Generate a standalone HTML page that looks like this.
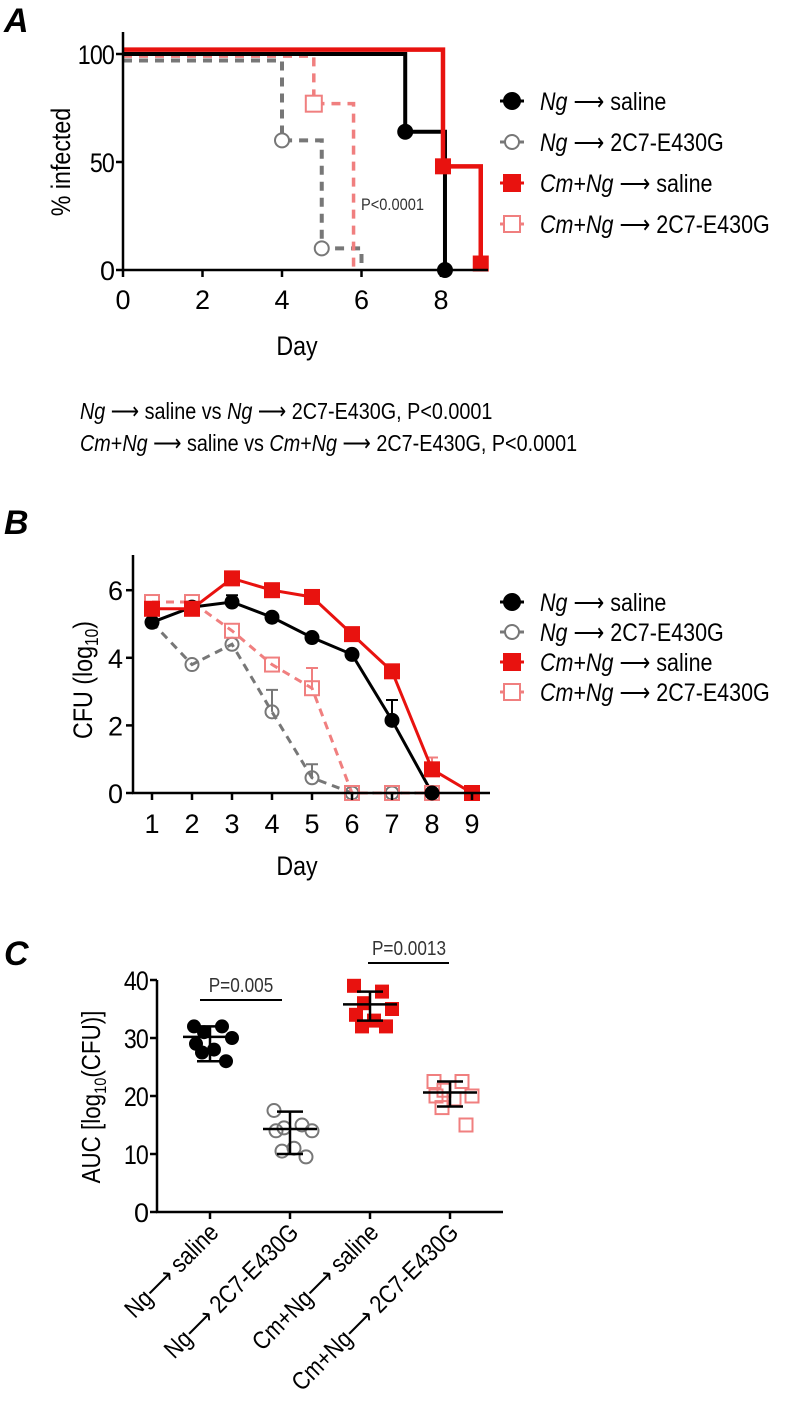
<!DOCTYPE html>
<html><head><meta charset="utf-8"><style>
body{margin:0;background:#fff}
svg{display:block;font-family:"Liberation Sans",Arial,sans-serif}
</style></head><body>
<svg id="fig" width="800" height="1411" viewBox="0 0 800 1411" xmlns="http://www.w3.org/2000/svg">
<g id="A"></g>
<g id="B"></g>
<g id="C"></g>
</svg>
<script>
// ---- Panel A data (survival) ----
const aNgSalDays=[0,7.1,8.1];const aNgSalVals=[100,64,0];
const aNg2C7Days=[0,4,5,6];const aNg2C7Vals=[97,60,10,0];
const aCmSalDays=[0,8.05,9];const aCmSalVals=[102,48,3];
const aCm2C7Days=[0,4.8,5.8];const aCm2C7Vals=[99,77,0];
const aXTicks=[0,2,4,6,8];const aYTicks=[0,50,100];
// ---- Panel B data (CFU) ----
const bDays=[1,2,3,4,5,6,7,8,9];
const bNgSal=[5.05,5.5,5.65,5.2,4.6,4.1,2.15,0,null];
const bNg2C7=[5.05,3.8,4.4,2.4,0.45,0,0,0,null];
const bCmSal=[5.45,5.45,6.35,6.0,5.8,4.7,3.6,0.7,0];
const bCm2C7=[5.65,5.65,4.8,3.8,3.1,0,0,0,null];
const bNgSalErr=[0,0,0.2,0,0,0,0.6,0,0];
const bNg2C7Err=[0,0,0,0.65,0.4,0,0,0,0];
const bCmSalErr=[0,0,0,0,0,0,0,0.35,0];
const bCm2C7Err=[0,0,0,0,0.6,0,0,0,0];
const bYTicks=[0,2,4,6];
// ---- Panel C data (AUC) ----
const cCats=["Ng saline","Ng 2C7","Cm saline","Cm 2C7"];
const cNgSal=[32,32,31,30,29,28,27.5,26];
const cNg2C7=[17.5,15,14.5,14,14,11,10.5,9.5];
const cCmSal=[39,38,36,35,34,33,32,32];
const cCm2C7=[22.5,22.5,21,20,20,19.5,18,15];
const cMeans=[30.2,14.3,35.8,20.6];
const cErrLo=[26,10,33,18.2];
const cErrHi=[32,17.3,38,22.5];
const cYTicks=[0,10,20,30,40];

const NS="http://www.w3.org/2000/svg";
function mk(parent,tag,attrs,text){const e=document.createElementNS(NS,tag);for(const k in attrs)e.setAttribute(k,attrs[k]);if(text!==undefined)e.textContent=text;parent.appendChild(e);return e;}
const RED="#e8120f",PINK="#f07f7f",GREY="#777",BLK="#000";

// ===== Panel A =====
const A=document.getElementById('A');
const ax=d=>123+d*39.75, ay=v=>270-v*2.16;
let t=mk(A,'text',{x:4,y:32,'font-size':34,'font-weight':'bold','font-style':'italic'},'A');


function stepPath(days,vals,end){let d=`M${ax(days[0])},${ay(vals[0])}`;for(let i=1;i<days.length;i++){d+=` H${ax(days[i])} V${ay(vals[i])}`;}if(end!==undefined)d+=` H${ax(end)} V${ay(0)}`;return d;}
let p=mk(A,'path',{d:stepPath(aNg2C7Days,aNg2C7Vals),fill:'none',stroke:GREY,'stroke-width':4,'stroke-dasharray':'9,7'});


p=mk(A,'path',{d:stepPath(aCm2C7Days,aCm2C7Vals),fill:'none',stroke:PINK,'stroke-width':3.5,'stroke-dasharray':'9,7'});


p=mk(A,'path',{d:stepPath(aNgSalDays,aNgSalVals),fill:'none',stroke:BLK,'stroke-width':4});


p=mk(A,'path',{d:stepPath(aCmSalDays,aCmSalVals),fill:'none',stroke:RED,'stroke-width':4.5});


for(let i=1;i<aNgSalDays.length;i++){const m=mk(A,'circle',{cx:ax(aNgSalDays[i]),cy:ay(aNgSalVals[i]),r:8,fill:BLK});}
for(let i=1;i<aNg2C7Days.length-1;i++){const m=mk(A,'circle',{cx:ax(aNg2C7Days[i]),cy:ay(aNg2C7Vals[i]),r:7,fill:'#fff',stroke:GREY,'stroke-width':2});}
for(let i=1;i<aCmSalDays.length;i++){const m=mk(A,'rect',{x:ax(aCmSalDays[i])-8,y:ay(aCmSalVals[i])-8,width:16,height:16,fill:RED});}
for(let i=1;i<aCm2C7Days.length-1;i++){const m=mk(A,'rect',{x:ax(aCm2C7Days[i])-8,y:ay(aCm2C7Vals[i])-8,width:16,height:16,fill:'#fff',stroke:PINK,'stroke-width':2});}
let l=mk(A,'path',{d:`M123,32 V271 M122,270 H488`,stroke:BLK,'stroke-width':2.5,fill:'none'});


aXTicks.forEach(v=>{mk(A,'line',{x1:ax(v),x2:ax(v),y1:270,y2:277,stroke:BLK,'stroke-width':2.5});const e=mk(A,'text',{x:ax(v),y:309,'font-size':27,'text-anchor':'middle'},v);});
aYTicks.forEach(v=>{mk(A,'line',{x1:116,x2:123,y1:ay(v),y2:ay(v),stroke:BLK,'stroke-width':2.5});const e=mk(A,'text',{x:114,y:ay(v)+10,'font-size':27,'text-anchor':'end','letter-spacing':'-1'},v);});
t=mk(A,'text',{x:0,y:0,'font-size':27,'text-anchor':'middle',transform:'translate(70,162) rotate(-90)'},'% infected');


t=mk(A,'text',{x:297,y:355,'font-size':27,'text-anchor':'middle'},'Day');


t=mk(A,'text',{x:361,y:210,'font-size':17,fill:'#333'},'P<0.0001');


t=mk(A,'text',{x:80,y:419,'font-size':23},'');
t.innerHTML='<tspan font-style="italic">Ng</tspan> ⟶ saline vs <tspan font-style="italic">Ng</tspan> ⟶ 2C7-E430G, P&lt;0.0001';


t=mk(A,'text',{x:80,y:451,'font-size':23},'');
t.innerHTML='<tspan font-style="italic">Cm</tspan>+<tspan font-style="italic">Ng</tspan> ⟶ saline vs <tspan font-style="italic">Cm</tspan>+<tspan font-style="italic">Ng</tspan> ⟶ 2C7-E430G, P&lt;0.0001';



// legends
function legend(G,y0,dy,prefix){
 const items=[{c:BLK,f:BLK,s:'c',lab:'<tspan font-style="italic">Ng</tspan> ⟶ saline'},
 {c:GREY,f:'#fff',s:'c',lab:'<tspan font-style="italic">Ng</tspan> ⟶ 2C7-E430G'},
 {c:RED,f:RED,s:'s',lab:'<tspan font-style="italic">Cm</tspan>+<tspan font-style="italic">Ng</tspan> ⟶ saline'},
 {c:PINK,f:'#fff',s:'s',lab:'<tspan font-style="italic">Cm</tspan>+<tspan font-style="italic">Ng</tspan> ⟶ 2C7-E430G'}];
 items.forEach((it,i)=>{const y=y0+i*dy;const g=mk(G,'g',{});
  
  
  mk(g,'line',{x1:500,x2:524,y1:y,y2:y,stroke:it.c,'stroke-width':3});
  if(it.s==='c')mk(g,'circle',{cx:512,cy:y,r:it.f==='#fff'?7:8,fill:it.f,stroke:it.c,'stroke-width':2});
  else mk(g,'rect',{x:504,y:y-8,width:16,height:16,fill:it.f,stroke:it.c,'stroke-width':2});
  const tx=mk(g,'text',{x:540,y:y+9,'font-size':25});tx.innerHTML=it.lab;});
}
legend(A,101,41,'a');

// ===== Panel B =====
const B=document.getElementById('B');
const bx=d=>152+(d-1)*40, by=v=>793-v*33.8;
t=mk(B,'text',{x:4,y:534,'font-size':34,'font-weight':'bold','font-style':'italic'},'B');


function lineD(vals){let d='';vals.forEach((v,i)=>{if(v===null)return;d+=(d?' L':'M')+bx(bDays[i])+','+by(v);});return d;}
function errs(vals,err,col){vals.forEach((v,i)=>{if(v===null||!err[i])return;const e=mk(B,'path',{d:`M${bx(bDays[i])},${by(v)} V${by(v+err[i])} M${bx(bDays[i])-6},${by(v+err[i])} H${bx(bDays[i])+6}`,stroke:col,'stroke-width':2,fill:'none'});});}
errs(bNg2C7,bNg2C7Err,GREY);errs(bCm2C7,bCm2C7Err,PINK);errs(bNgSal,bNgSalErr,BLK);errs(bCmSal,bCmSalErr,PINK);
p=mk(B,'path',{d:lineD(bNg2C7),fill:'none',stroke:GREY,'stroke-width':3,'stroke-dasharray':'8,6'});


p=mk(B,'path',{d:lineD(bCm2C7),fill:'none',stroke:PINK,'stroke-width':3,'stroke-dasharray':'8,6'});


p=mk(B,'path',{d:lineD(bNgSal),fill:'none',stroke:BLK,'stroke-width':3});


p=mk(B,'path',{d:lineD(bCmSal),fill:'none',stroke:RED,'stroke-width':3});


bNg2C7.forEach((v,i)=>{if(v===null||i===0)return;const m=mk(B,'circle',{cx:bx(bDays[i]),cy:by(v),r:6.5,fill:'none',stroke:GREY,'stroke-width':2});});
bCm2C7.forEach((v,i)=>{if(v===null)return;const m=mk(B,'rect',{x:bx(bDays[i])-7,y:by(v)-7,width:14,height:14,fill:'none',stroke:PINK,'stroke-width':2});});
bNgSal.forEach((v,i)=>{if(v===null)return;const m=mk(B,'circle',{cx:bx(bDays[i]),cy:by(v),r:7.5,fill:BLK});});
bCmSal.forEach((v,i)=>{if(v===null)return;const m=mk(B,'rect',{x:bx(bDays[i])-8,y:by(v)-8,width:16,height:16,fill:RED});});
l=mk(B,'path',{d:`M133,555 V794 M132,793 H490`,stroke:BLK,'stroke-width':2.5,fill:'none'});


bDays.forEach(v=>{mk(B,'line',{x1:bx(v),x2:bx(v),y1:793,y2:800,stroke:BLK,'stroke-width':2.5});const e=mk(B,'text',{x:bx(v),y:833,'font-size':27,'text-anchor':'middle'},v);});
bYTicks.forEach(v=>{mk(B,'line',{x1:126,x2:133,y1:by(v),y2:by(v),stroke:BLK,'stroke-width':2.5});const e=mk(B,'text',{x:123,y:by(v)+10,'font-size':27,'text-anchor':'end'},v);});
t=mk(B,'text',{x:0,y:0,'font-size':27,'text-anchor':'middle',transform:'translate(92,680) rotate(-90)'},'');
t.innerHTML='CFU (log<tspan font-size="18" dy="6">10</tspan><tspan dy="-6">)</tspan>';


t=mk(B,'text',{x:297,y:875,'font-size':27,'text-anchor':'middle'},'Day');


legend(B,602,30,'b');

// ===== Panel C =====
const C=document.getElementById('C');
const cxp=i=>210+i*80, cy=v=>1212-v*5.8;
t=mk(C,'text',{x:4,y:965,'font-size':34,'font-weight':'bold','font-style':'italic'},'C');


const offs=[-16,12,-6,22,-14,4,-8,16];
function dots(vals,i,kind){vals.forEach((v,j)=>{const x=cxp(i)+offs[j%offs.length];let m;
 if(kind==='fc')m=mk(C,'circle',{cx:x,cy:cy(v),r:7,fill:BLK});
 else if(kind==='oc')m=mk(C,'circle',{cx:x,cy:cy(v),r:6.5,fill:'none',stroke:GREY,'stroke-width':2});
 else if(kind==='fs')m=mk(C,'rect',{x:x-7,y:cy(v)-7,width:14,height:14,fill:RED});
 else m=mk(C,'rect',{x:x-6.5,y:cy(v)-6.5,width:13,height:13,fill:'none',stroke:PINK,'stroke-width':2});
 
 });}
dots(cNgSal,0,'fc');dots(cNg2C7,1,'oc');dots(cCmSal,2,'fs');dots(cCm2C7,3,'os');
cMeans.forEach((m,i)=>{const x=cxp(i);const e=mk(C,'path',{d:`M${x-27},${cy(m)} H${x+27} M${x},${cy(cErrLo[i])} V${cy(cErrHi[i])} M${x-13},${cy(cErrLo[i])} H${x+13} M${x-13},${cy(cErrHi[i])} H${x+13}`,stroke:BLK,'stroke-width':2.5,fill:'none'});});
l=mk(C,'path',{d:`M157,980 V1213 M156,1212 H503`,stroke:BLK,'stroke-width':2.5,fill:'none'});


cYTicks.forEach(v=>{mk(C,'line',{x1:150,x2:157,y1:cy(v),y2:cy(v),stroke:BLK,'stroke-width':2.5});const e=mk(C,'text',{x:148,y:cy(v)+10,'font-size':27,'text-anchor':'end','letter-spacing':'-1'},v);});
const cLabels=['Ng⟶ saline','Ng⟶ 2C7-E430G','Cm+Ng⟶ saline','Cm+Ng⟶ 2C7-E430G'];
cCats.forEach((c,i)=>{mk(C,'line',{x1:cxp(i),x2:cxp(i),y1:1212,y2:1219,stroke:BLK,'stroke-width':2.5});const e=mk(C,'text',{x:0,y:0,'font-size':25,'text-anchor':'end',transform:`translate(${cxp(i)+10},${1234}) rotate(-45)`},cLabels[i]);});
t=mk(C,'text',{x:0,y:0,'font-size':26,'text-anchor':'middle',transform:'translate(100,1097) rotate(-90)'},'');
t.innerHTML='AUC [log<tspan font-size="17" dy="6">10</tspan><tspan dy="-6">(CFU)]</tspan>';


l=mk(C,'line',{x1:200,x2:282,y1:1000,y2:1000,stroke:BLK,'stroke-width':2});


t=mk(C,'text',{x:241,y:992,'font-size':20,'text-anchor':'middle',fill:'#333'},'P=0.005');


l=mk(C,'line',{x1:368,x2:449,y1:963,y2:963,stroke:BLK,'stroke-width':2});


t=mk(C,'text',{x:409,y:955,'font-size':20,'text-anchor':'middle',fill:'#333'},'P=0.0013');



// condense all text to mimic narrow face
document.querySelectorAll('#fig text').forEach(el=>{
  if(el.textContent.length<2)return;
  const w=el.getComputedTextLength();
  el.setAttribute('textLength',(w*0.86).toFixed(1));
  el.setAttribute('lengthAdjust','spacingAndGlyphs');
});
</script>
</body></html>
